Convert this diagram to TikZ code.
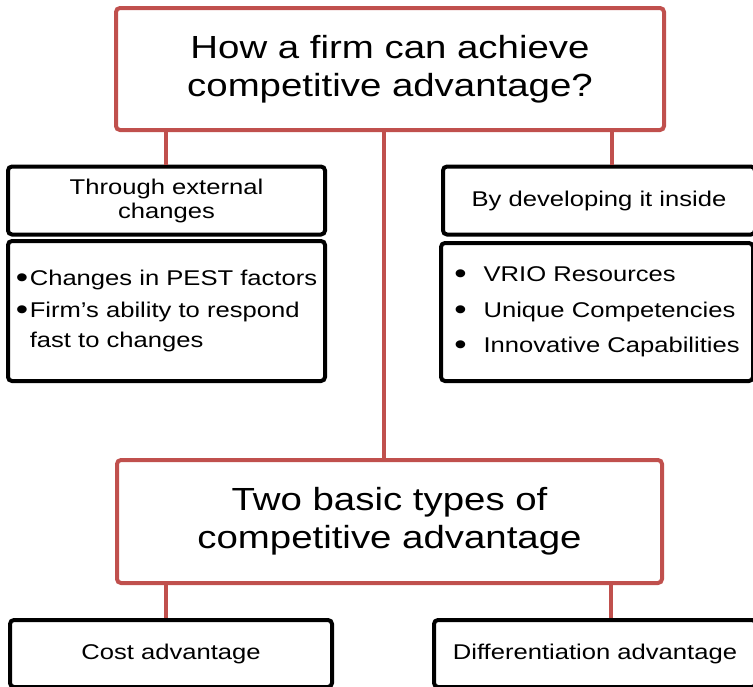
\documentclass[tikz,border=0pt]{standalone}
\usepackage{fontspec}
\setmainfont{Liberation Sans}[FakeStretch=1.2]
\definecolor{boxred}{HTML}{C0504D}
\newcommand{\bigdot}{\raisebox{-1.5pt}{\fontsize{22}{22}\selectfont\textbullet}}

\begin{document}
\begin{tikzpicture}[x = 0.75pt, y = -0.75pt,
    redbox/.style = {draw=boxred, line width=3pt, rounded corners=3pt, inner sep=0pt,
                     align=center, font=\fontsize{24}{28.5}\selectfont},
    blackbox/.style = {draw=black, line width=3pt, rounded corners=3pt, inner sep=0pt,
                       align=center, font=\fontsize{16}{18}\selectfont},
    link/.style = {draw=boxred, line width=3pt}]

    \useasboundingbox (0,0) rectangle (753,686);
    \clip (0,0) rectangle (753,686);

    % the question
    \node[redbox, minimum width=411pt, minimum height=91.5pt] (top) at (390,69)
        {How a firm can achieve\\competitive advantage?};

    % two ways
    \node[blackbox, minimum width=237.75pt, minimum height=51pt] (ext) at (166.5,200.5)
        {Through external\\changes};
    \node[blackbox, minimum width=234pt, minimum height=51pt] (ins) at (599,200.5)
        {By developing it inside};

    \node[blackbox, align=left, font=\fontsize{16}{22.5}\selectfont,
          minimum width=237.75pt, minimum height=105pt] (extlist) at (166.5,311)
        {\makebox[10.5pt][l]{\bigdot}Changes in PEST factors\\[2pt]
         \makebox[10.5pt][l]{\bigdot}Firm’s ability to respond\\
         \hspace*{10.5pt}fast to changes};
    \node[blackbox, align=left, font=\fontsize{16}{26.5}\selectfont,
          minimum width=234pt, minimum height=103.5pt] (inslist) at (597,312)
        {\makebox[22pt][l]{\bigdot}VRIO Resources\\
         \makebox[22pt][l]{\bigdot}Unique Competencies\\
         \makebox[22pt][l]{\bigdot}Innovative Capabilities};

    % the two types
    \node[redbox, minimum width=408.75pt, minimum height=92.25pt] (types) at (389.5,521.5)
        {Two basic types of\\competitive advantage};

    \node[blackbox, minimum width=241.5pt, minimum height=50.25pt] (cost) at (171,653.5)
        {Cost advantage};
    \node[blackbox, minimum width=241.5pt, minimum height=50.25pt] (diff) at (595,653.5)
        {Differentiation advantage};

    % connectors
    \coordinate (tapA) at (166,0);
    \coordinate (tapB) at (384,0);
    \coordinate (tapC) at (612,0);
    \coordinate (tapD) at (611,0);

    \draw[link] (top.south -| tapA) -- (ext.north -| tapA);
    \draw[link] (top.south -| tapB) -- (types.north -| tapB);
    \draw[link] (top.south -| tapC) -- (ins.north -| tapC);
    \draw[link] (types.south -| tapA) -- (cost.north -| tapA);
    \draw[link] (types.south -| tapD) -- (diff.north -| tapD);

\end{tikzpicture}
\end{document}
